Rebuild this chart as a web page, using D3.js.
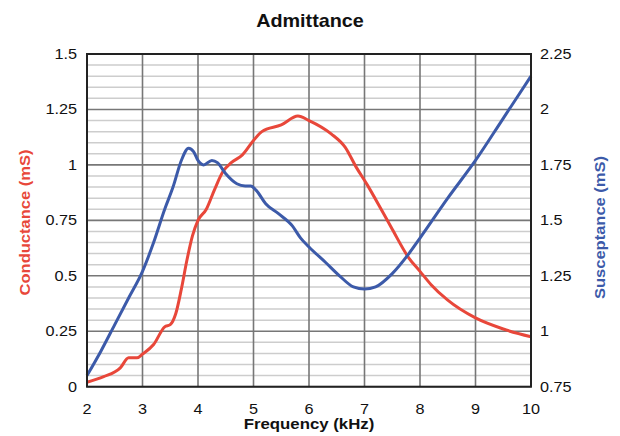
<!DOCTYPE html>
<head>
  <meta charset="utf-8">
  <script src="https://d3js.org/d3.v7.min.js"></script>
  <style>
    body { margin: 0; background: #fff; font-family: "Liberation Sans", Arial, sans-serif; }
    svg { display: block; }
    .tick-label { font-size: 14px; fill: #111; }
    .title { font-size: 18px; font-weight: 700; fill: #111; }
    .axis-title { font-size: 14px; font-weight: 700; }
  </style>
</head>
<body>
  <svg width="620" height="436"></svg>
  <script>
    // frequency (kHz) vs conductance (mS), left axis
    var condFreq = [2, 2.3, 2.6, 2.75, 2.9, 3, 3.2, 3.4, 3.5, 3.6, 3.7, 3.8, 3.9, 4, 4.15, 4.3, 4.45, 4.6, 4.8, 5, 5.15, 5.5, 5.8, 6, 6.4, 6.65, 6.85, 7.05, 7.3, 7.5, 7.8, 8, 8.2, 8.5, 9, 9.5, 10];
    var condValues = [0.02, 0.045, 0.085, 0.13, 0.13, 0.147, 0.19, 0.27, 0.28, 0.33, 0.44, 0.57, 0.68, 0.75, 0.8, 0.89, 0.97, 1.01, 1.045, 1.11, 1.15, 1.18, 1.22, 1.2, 1.14, 1.08, 0.99, 0.91, 0.8, 0.71, 0.58, 0.52, 0.46, 0.39, 0.31, 0.26, 0.225];
    // frequency (kHz) vs susceptance (mS), right axis
    var suscFreq = [2, 2.25, 2.5, 2.75, 3, 3.2, 3.4, 3.55, 3.7, 3.83, 3.92, 4, 4.1, 4.25, 4.35, 4.5, 4.7, 4.85, 4.95, 5.05, 5.22, 5.45, 5.7, 5.85, 6, 6.3, 6.55, 6.8, 7, 7.2, 7.5, 7.8, 8, 8.5, 9, 9.5, 10];
    var suscValues = [0.8, 0.91, 1.03, 1.15, 1.27, 1.4, 1.55, 1.65, 1.77, 1.825, 1.81, 1.77, 1.75, 1.77, 1.76, 1.71, 1.665, 1.655, 1.655, 1.635, 1.575, 1.53, 1.475, 1.42, 1.38, 1.31, 1.25, 1.2, 1.19, 1.2, 1.26, 1.35, 1.42, 1.6, 1.77, 1.96, 2.15];

    var xTicks = [2, 3, 4, 5, 6, 7, 8, 9, 10];
    var leftTicks = [0, 0.25, 0.5, 0.75, 1, 1.25, 1.5];
    var rightTicks = [0.75, 1, 1.25, 1.5, 1.75, 2, 2.25];

    var red = '#e8473a', blue = '#3c5aa9';
    var plotL = 87, plotR = 531, plotT = 54, plotB = 386.7;
    var stretch = 'scale(1.16,1)'; // reference type is a bit wide

    var svg = d3.select('svg');
    var x = d3.scaleLinear().domain([2, 10]).range([plotL, plotR]);
    var yL = d3.scaleLinear().domain([0, 1.5]).range([plotB, plotT]);
    var yR = d3.scaleLinear().domain([0.75, 2.25]).range([plotB, plotT]);

    // minor grid every 0.05
    var minor = d3.range(0, 1.5001, 0.05).filter(function(v) {
      return Math.abs(v / 0.25 - Math.round(v / 0.25)) > 1e-6;
    });
    svg.append('g').selectAll('line').data(minor).enter().append('line')
      .attr('x1', plotL).attr('x2', plotR)
      .attr('y1', function(d) { return yL(d); })
      .attr('y2', function(d) { return yL(d); })
      .attr('stroke', '#cdcdcd').attr('stroke-width', 1.5);

    // major grid
    svg.append('g').selectAll('line').data(leftTicks).enter().append('line')
      .attr('x1', plotL).attr('x2', plotR)
      .attr('y1', function(d) { return yL(d); })
      .attr('y2', function(d) { return yL(d); })
      .attr('stroke', '#777').attr('stroke-width', 1.6);
    svg.append('g').selectAll('line').data(xTicks).enter().append('line')
      .attr('y1', plotT).attr('y2', plotB)
      .attr('x1', function(d) { return x(d); })
      .attr('x2', function(d) { return x(d); })
      .attr('stroke', '#777').attr('stroke-width', 1.6);

    // curves
    var lineL = d3.line()
      .x(function(d) { return x(d[0]); })
      .y(function(d) { return yL(d[1]); })
      .curve(d3.curveMonotoneX);
    var lineR = d3.line()
      .x(function(d) { return x(d[0]); })
      .y(function(d) { return yR(d[1]); })
      .curve(d3.curveMonotoneX);

    svg.append('path')
      .attr('d', lineL(d3.zip(condFreq, condValues)))
      .attr('fill', 'none').attr('stroke', red).attr('stroke-width', 3);
    svg.append('path')
      .attr('d', lineR(d3.zip(suscFreq, suscValues)))
      .attr('fill', 'none').attr('stroke', blue).attr('stroke-width', 3);

    // frame
    svg.append('rect')
      .attr('x', plotL).attr('y', plotT)
      .attr('width', plotR - plotL).attr('height', plotB - plotT)
      .attr('fill', 'none').attr('stroke', '#222').attr('stroke-width', 2);

    // tick labels
    svg.append('g').selectAll('text').data(leftTicks).enter().append('text')
      .attr('class', 'tick-label')
      .attr('transform', function(d) { return 'translate(' + (plotL - 10) + ',' + yL(d) + ')' + stretch; })
      .attr('dy', '0.36em').attr('text-anchor', 'end')
      .text(function(d) { return d; });
    svg.append('g').selectAll('text').data(rightTicks).enter().append('text')
      .attr('class', 'tick-label')
      .attr('transform', function(d) { return 'translate(' + (plotR + 9) + ',' + yR(d) + ')' + stretch; })
      .attr('dy', '0.36em').attr('text-anchor', 'start')
      .text(function(d) { return d; });
    svg.append('g').selectAll('text').data(xTicks).enter().append('text')
      .attr('class', 'tick-label')
      .attr('transform', function(d) { return 'translate(' + x(d) + ',414)' + stretch; })
      .attr('text-anchor', 'middle')
      .text(function(d) { return d; });

    // titles
    svg.append('text').attr('class', 'title')
      .attr('transform', 'translate(310,27)scale(1.1,1)').attr('text-anchor', 'middle')
      .text('Admittance');
    svg.append('text').attr('class', 'axis-title')
      .attr('transform', 'translate(309,429)scale(1.2,1)').attr('text-anchor', 'middle')
      .attr('fill', '#111')
      .text('Frequency (kHz)');
    svg.append('text').attr('class', 'axis-title')
      .attr('transform', 'translate(30,222.5)rotate(-90)scale(1.18,1)')
      .attr('text-anchor', 'middle').attr('fill', red)
      .text('Conductance (mS)');
    svg.append('text').attr('class', 'axis-title')
      .attr('transform', 'translate(605,227.5)rotate(-90)scale(1.18,1)')
      .attr('text-anchor', 'middle').attr('fill', blue)
      .text('Susceptance (mS)');
  </script>
</body>
